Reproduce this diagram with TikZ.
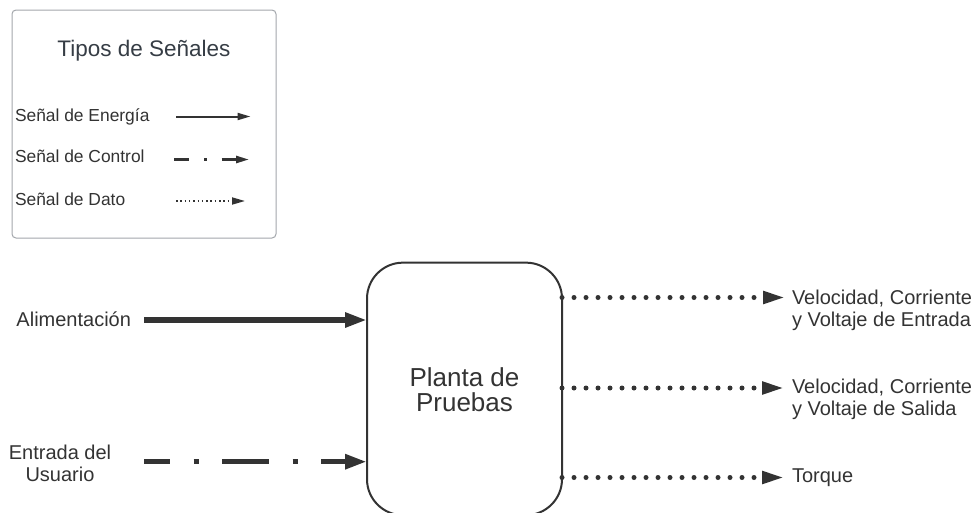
\documentclass[tikz,border=0pt]{standalone}
\usepackage{fontspec}
\setmainfont{Liberation Sans}
\usetikzlibrary{arrows.meta}
\definecolor{ink}{HTML}{333333}
\definecolor{titleink}{HTML}{363D45}
\definecolor{legendframe}{HTML}{A3A7AC}
\tikzset{
  every node/.style={inner sep=0pt, outer sep=0pt, text=ink},
  legendbox/.style={draw=legendframe, line width=1pt, rounded corners=4pt, fill=white},
  plantbox/.style={draw=ink, line width=2pt, rounded corners=36pt, minimum width=195pt, minimum height=252.5pt},
  labeltext/.style={font=\fontsize{20}{22.5}\selectfont},
  legendtext/.style={font=\fontsize{17.4}{20}\selectfont, anchor=base west},
  energy/.style={draw=ink, line width=6pt, -{Triangle[length=22pt,width=14pt]}},
  control/.style={draw=ink, line width=5.5pt, dash pattern=on 47pt off 23.5pt on 5pt off 23.5pt, dash phase=21pt, -{Triangle[length=22pt,width=14pt]}},
  data/.style={draw=ink, line width=5pt, line cap=round, dash pattern=on 0pt off 12pt, -{Triangle[length=22pt,width=12pt]}},
  energysmall/.style={draw=ink, line width=2pt, -{Triangle[length=13pt,width=7pt]}},
  controlsmall/.style={draw=ink, line width=2.5pt, dash pattern=on 15pt off 15pt on 2.5pt off 15pt, -{Triangle[length=13pt,width=7pt]}},
  datasmall/.style={draw=ink, line width=1.7pt, dash pattern=on 1.5pt off 2.8pt, -{Triangle[length=13pt,width=7pt]}}
}
\begin{document}
\begin{tikzpicture}[x=1pt, y=-1pt]
\useasboundingbox (0,0) rectangle (975,512);

% legend of signal types
\node[legendbox, minimum width=264pt, minimum height=228pt] (legend) at (144,124) {};
\node[anchor=base, text=titleink, font=\fontsize{22.5}{26}\selectfont] (legendTitle) at (144,56.5) {Tipos de Señales};
\node[legendtext] (lgEnergy) at (15,121.7) {Señal de Energía};
\node[legendtext] (lgControl) at (15,162.7) {Señal de Control};
\node[legendtext] (lgData) at (15,205) {Señal de Dato};
\coordinate (lgEnergyA) at (176,116.5);
\coordinate (lgEnergyB) at (250.5,116.5);
\coordinate (lgControlA) at (174,159.5);
\coordinate (lgControlB) at (249,159.5);
\coordinate (lgDataA) at (176,201);
\coordinate (lgDataB) at (245,201);
\draw[energysmall] (lgEnergyA) -- (lgEnergyB);
\draw[controlsmall] (lgControlA) -- (lgControlB);
\draw[datasmall] (lgDataA) -- (lgDataB);

% test plant
\node[plantbox] (plant) at (464.5,388.9) {};
\node[anchor=base, align=center, font=\fontsize{26}{24.5}\selectfont] (plantText) at (464.5,411.2) {Planta de\\Pruebas};

% inputs
\node[labeltext, anchor=base east] (power) at (131,326.7) {Alimentación};
\node[labeltext, anchor=base, align=center] (user) at (60,481.7) {Entrada del\\Usuario};
\coordinate (powerStart) at (144,320);
\coordinate (userStart) at (144,461.7);
\draw[energy] (powerStart) -- (powerStart -| plant.west);
\draw[control] (userStart) -- (userStart -| plant.west);

% outputs
\node[labeltext, anchor=base west, align=left] (outIn) at (792,326.5) {Velocidad, Corriente\\y Voltaje de Entrada};
\node[labeltext, anchor=base west, align=left] (outOut) at (792,415.5) {Velocidad, Corriente\\y Voltaje de Salida};
\node[labeltext, anchor=base west] (outTorque) at (792,482.3) {Torque};
\coordinate (outInTip) at (785,297.5);
\coordinate (outOutTip) at (784,388);
\coordinate (outTorqueTip) at (784,477.5);
\draw[data] (outInTip -| plant.east) -- (outInTip);
\draw[data] (outOutTip -| plant.east) -- (outOutTip);
\draw[data] (outTorqueTip -| plant.east) -- (outTorqueTip);
\end{tikzpicture}
\end{document}
